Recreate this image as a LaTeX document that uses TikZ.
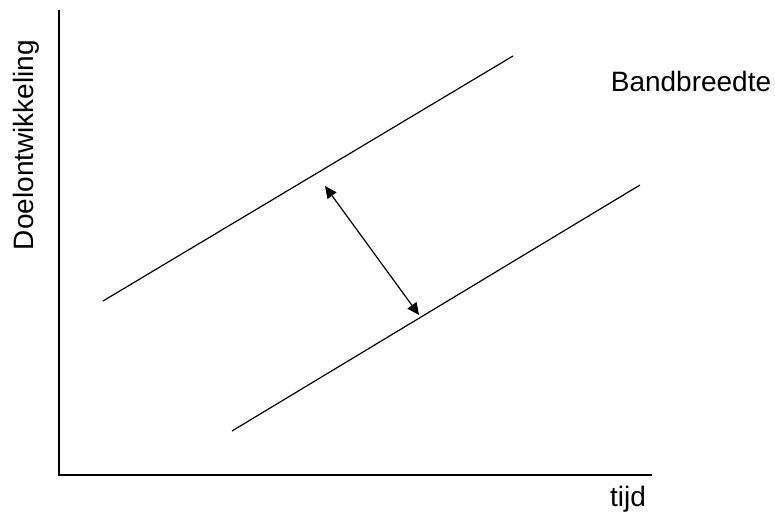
\documentclass[tikz,border=0pt]{standalone}
\usepackage{fontspec}
\setmainfont{Liberation Sans}
\usetikzlibrary{arrows.meta}

\begin{document}
\begin{tikzpicture}[x=0.5pt, y=-0.5pt, line width=0.6pt,
    lbl/.style={font=\fontsize{14}{16}\selectfont, inner sep=0pt}]
    % Units: 1 = one pixel of the 775 x 517 original, y pointing down
    \useasboundingbox (0,0) rectangle (775,517);

    % Axes
    \coordinate (O) at (59,475);
    \draw (59,10) -- (O) -- (652,475);
    \node[lbl, rotate=90] (yl) at (26,145) {Doelontwikkeling};
    \node[lbl] (xl) at (628,499) {tijd};

    % Upper and lower bound of the band
    \coordinate (u1) at (103,301);
    \coordinate (u2) at (513,56);
    \coordinate (l1) at (232,431);
    \coordinate (l2) at (640,185);
    \draw (u1) -- (u2);
    \draw (l1) -- (l2);

    % Band width
    \coordinate (bu) at (325,186);
    \coordinate (bl) at (419,315);
    \draw[{Triangle[length=6pt,width=5.5pt]}-{Triangle[length=6pt,width=5.5pt]}] (bu) -- (bl);
    \node[lbl] (bw) at (691,81) {Bandbreedte};
\end{tikzpicture}
\end{document}
